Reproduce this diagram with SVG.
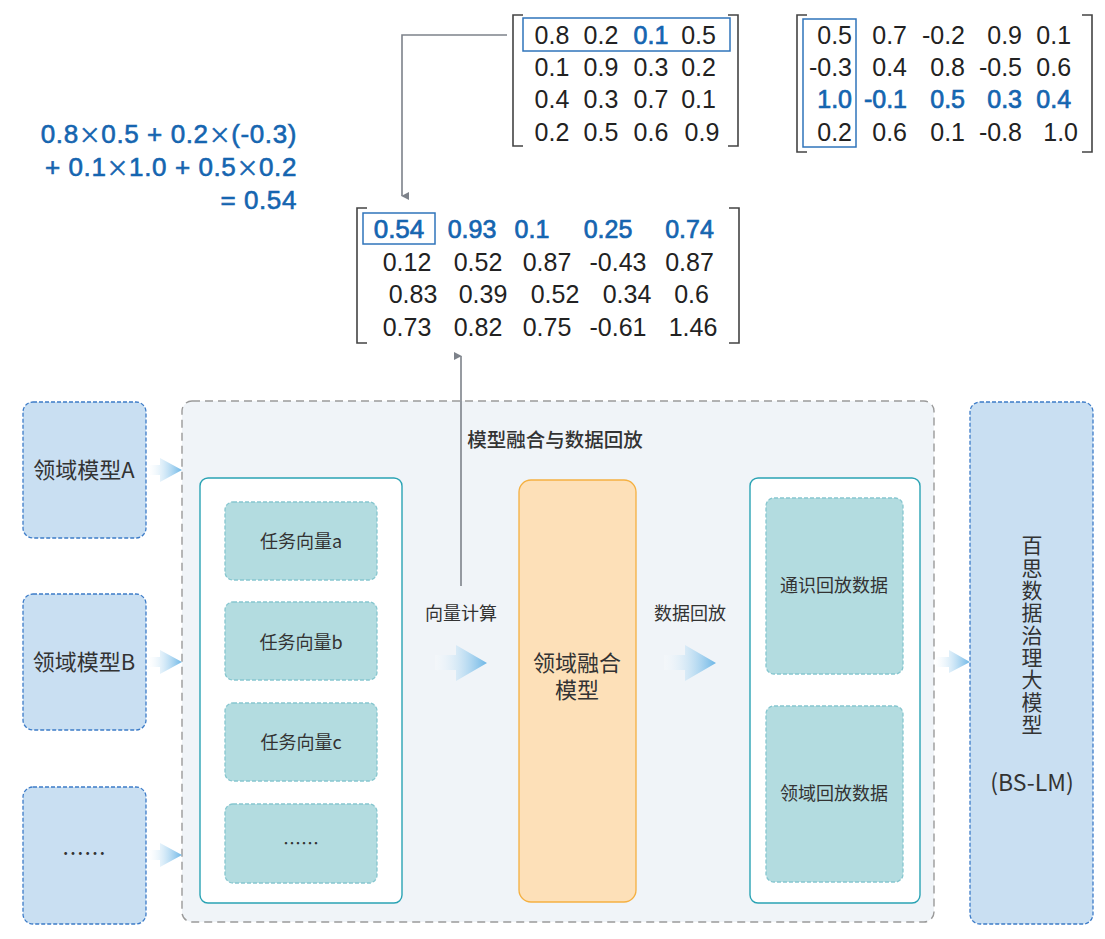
<svg xmlns="http://www.w3.org/2000/svg" width="1105" height="939" viewBox="0 0 1105 939">
<style>
text{font-family:"Noto Sans CJK SC","Noto Sans",sans-serif;}
.m{font-family:"Liberation Sans","Noto Sans CJK SC",sans-serif;font-size:25px;fill:#222;}
.b{fill:#1565b0;stroke:#1565b0;stroke-width:0.7;}
.f{font-family:"Liberation Sans","Noto Sans CJK SC",sans-serif;font-size:26px;fill:#1565b0;stroke:#1565b0;stroke-width:0.6;letter-spacing:0.6px;}
.x{font-family:"Noto Sans CJK SC",sans-serif;font-size:22px;}
.br{fill:none;stroke:#444;stroke-width:1.6;}
.hl{fill:none;stroke:#2f74bb;stroke-width:1.5;}
.src{fill:#c9dff2;stroke:#3d7cc8;stroke-width:1.3;stroke-dasharray:4 2;}
.task{fill:#b3dce0;stroke:#86c6cf;stroke-width:1.3;stroke-dasharray:4 2;}
.lbl{font-size:22px;fill:#333;}
.lb2{font-family:"Liberation Sans","Noto Sans CJK SC",sans-serif;font-size:22px;fill:#333;}
.sm{font-size:18px;fill:#333;}
.conn{fill:none;stroke:#7d828a;stroke-width:1.6;}
.blk{fill:url(#ag);}
</style>
<defs>
<linearGradient id="ag" x1="0" y1="0" x2="1" y2="0">
<stop offset="0" stop-color="#ffffff" stop-opacity="0.2"/>
<stop offset="1" stop-color="#6cb6e6"/>
</linearGradient>
<marker id="ah" viewBox="0 0 10 10" refX="5" refY="9" markerWidth="8" markerHeight="8" orient="auto-start-reverse" markerUnits="userSpaceOnUse">
<path d="M0,0 L10,0 L5,10 z" fill="#7d828a"/>
</marker>
</defs>
<rect width="1105" height="939" fill="#ffffff"/>

<g id="matrix1">
<path class="br" d="M523,15 H513 V146 H523"/>
<path class="br" d="M728,15 H738 V146 H728"/>
<rect class="hl" x="523" y="18" width="207" height="33"/>
<text class="m" text-anchor="middle">
<tspan x="552" y="44">0.8</tspan><tspan x="601" y="44">0.2</tspan><tspan class="b" x="651" y="44">0.1</tspan><tspan x="702" y="44">0.5</tspan>
<tspan x="552" y="76">0.1</tspan><tspan x="601" y="76">0.9</tspan><tspan x="651" y="76">0.3</tspan><tspan x="702" y="76">0.2</tspan>
<tspan x="552" y="108">0.4</tspan><tspan x="601" y="108">0.3</tspan><tspan x="651" y="108">0.7</tspan><tspan x="702" y="108">0.1</tspan>
<tspan x="552" y="141">0.2</tspan><tspan x="601" y="141">0.5</tspan><tspan x="651" y="141">0.6</tspan><tspan x="702" y="141">0.9</tspan>
</text>
</g>

<g id="matrix2">
<path class="br" d="M807,15 H797 V152 H807"/>
<path class="br" d="M1082,15 H1092 V152 H1082"/>
<rect class="hl" x="803" y="19" width="53" height="128"/>
<text class="m" text-anchor="end">
<tspan x="852" y="44">0.5</tspan><tspan x="907" y="44">0.7</tspan><tspan x="965" y="44">-0.2</tspan><tspan x="1022" y="44">0.9</tspan><tspan x="1078" y="44">0.1</tspan>
<tspan x="852" y="76">-0.3</tspan><tspan x="907" y="76">0.4</tspan><tspan x="965" y="76">0.8</tspan><tspan x="1022" y="76">-0.5</tspan><tspan x="1078" y="76">0.6</tspan>
<tspan class="b" x="852" y="108">1.0</tspan><tspan class="b" x="907" y="108">-0.1</tspan><tspan class="b" x="965" y="108">0.5</tspan><tspan class="b" x="1022" y="108">0.3</tspan><tspan class="b" x="1078" y="108">0.4</tspan>
<tspan x="852" y="141">0.2</tspan><tspan x="907" y="141">0.6</tspan><tspan x="965" y="141">0.1</tspan><tspan x="1022" y="141">-0.8</tspan><tspan x="1078" y="141">1.0</tspan>
</text>
</g>

<g id="formula">
<text class="f" text-anchor="end"><tspan x="297" y="143">0.8<tspan class="x">×</tspan>0.5 + 0.2<tspan class="x">×</tspan>(-0.3)</tspan><tspan x="297" y="176">+ 0.1<tspan class="x">×</tspan>1.0 + 0.5<tspan class="x">×</tspan>0.2</tspan><tspan x="297" y="209">= 0.54</tspan></text>
</g>

<g id="result">
<path class="br" d="M367,208 H357 V343 H367"/>
<path class="br" d="M729,208 H739 V343 H729"/>
<rect class="hl" x="363" y="213" width="72" height="31"/>
<text class="m" text-anchor="middle">
<tspan class="b" x="399" y="238" font-size="26">0.54</tspan><tspan class="b" x="472" y="238">0.93</tspan><tspan class="b" x="532" y="238">0.1</tspan><tspan class="b" x="608" y="238">0.25</tspan><tspan class="b" x="693" y="238">0.74</tspan>
<tspan x="407" y="271">0.12</tspan><tspan x="478" y="271">0.52</tspan><tspan x="547" y="271">0.87</tspan><tspan x="618" y="271">-0.43</tspan><tspan x="693" y="271">0.87</tspan>
<tspan x="413" y="303">0.83</tspan><tspan x="483" y="303">0.39</tspan><tspan x="555" y="303">0.52</tspan><tspan x="627" y="303">0.34</tspan><tspan x="695" y="303">0.6</tspan>
<tspan x="407" y="336">0.73</tspan><tspan x="478" y="336">0.82</tspan><tspan x="547" y="336">0.75</tspan><tspan x="618" y="336">-0.61</tspan><tspan x="693" y="336">1.46</tspan>
</text>
</g>

<g id="container">
<rect x="182" y="401" width="752" height="521" rx="10" fill="#f0f4f8" stroke="#9a9a9a" stroke-width="1.4" stroke-dasharray="8 5"/>
<text x="555" y="447" text-anchor="middle" font-size="19.5" font-weight="500" fill="#333">模型融合与数据回放</text>
</g>

<g id="srcA"><rect class="src" x="23" y="402" width="123" height="136" rx="10"/><text class="lbl" x="84" y="478" text-anchor="middle">领域模型A</text></g>
<g id="srcB"><rect class="src" x="23" y="594" width="123" height="136" rx="10"/><text class="lbl" x="84" y="670" text-anchor="middle">领域模型B</text></g>
<g id="srcMore"><rect class="src" x="23" y="787" width="123" height="137" rx="10"/><text class="lbl" x="84" y="861" text-anchor="middle">……</text></g>

<g id="taskPanel">
<rect x="200" y="478" width="202" height="425" rx="8" fill="#ffffff" stroke="#2aa3b4" stroke-width="1.4"/>
</g>
<g id="taskA"><rect class="task" x="225" y="502" width="152" height="78" rx="8"/><text class="sm" x="301" y="548" text-anchor="middle">任务向量a</text></g>
<g id="taskB"><rect class="task" x="225" y="602" width="152" height="78" rx="8"/><text class="sm" x="301" y="649" text-anchor="middle">任务向量b</text></g>
<g id="taskC"><rect class="task" x="225" y="703" width="152" height="78" rx="8"/><text class="sm" x="301" y="749" text-anchor="middle">任务向量c</text></g>
<g id="taskMore"><rect class="task" x="225" y="804" width="152" height="79" rx="8"/><text class="sm" x="301" y="850" text-anchor="middle">……</text></g>

<g id="fusion">
<rect x="519" y="480" width="117" height="422" rx="12" fill="#fde0b8" stroke="#f5b041" stroke-width="1.3"/>
<text class="lb2" text-anchor="middle"><tspan x="577" y="671">领域融合</tspan><tspan x="577" y="698">模型</tspan></text>
</g>

<g id="replayPanel">
<rect x="750" y="478" width="170" height="425" rx="8" fill="#ffffff" stroke="#2aa3b4" stroke-width="1.4"/>
</g>
<g id="replayGeneral"><rect class="task" x="766" y="498" width="137" height="176" rx="8"/><text class="sm" x="834" y="592" text-anchor="middle">通识回放数据</text></g>
<g id="replayDomain"><rect class="task" x="766" y="706" width="137" height="176" rx="8"/><text class="sm" x="834" y="800" text-anchor="middle">领域回放数据</text></g>

<g id="bslm">
<rect x="970" y="402" width="123" height="522" rx="10" fill="#c9dff2" stroke="#3d7cc8" stroke-width="1.3" stroke-dasharray="4 2"/>
<text x="1032" y="535" font-size="21" fill="#333" writing-mode="vertical-rl" letter-spacing="1.3">百思数据治理大模型</text>
<text x="1032" y="791" font-size="23" fill="#333" text-anchor="middle">(BS-LM)</text>
</g>

<g id="connectors">
<path class="conn" d="M507,35 H402 V196" marker-end="url(#ah)"/>
<path class="conn" d="M461,586 V356" marker-end="url(#ah)"/>
<path class="blk" d="M148,465 H160 V458 L182,470 L160,482 V475 H148 Z"/>
<path class="blk" d="M148,657 H160 V650 L182,662 L160,674 V667 H148 Z"/>
<path class="blk" d="M148,850 H160 V843 L182,855 L160,867 V860 H148 Z"/>
<path class="blk" d="M435,655 H456 V645 L487,663 L456,681 V670 H435 Z"/>
<path class="blk" d="M664,655 H685 V645 L716,663 L685,681 V670 H664 Z"/>
<path class="blk" d="M935,657 H949 V650 L970,662 L949,673 V667 H935 Z"/>
<text class="sm" x="461" y="620" text-anchor="middle">向量计算</text>
<text class="sm" x="690" y="620" text-anchor="middle">数据回放</text>
</g>
</svg>
